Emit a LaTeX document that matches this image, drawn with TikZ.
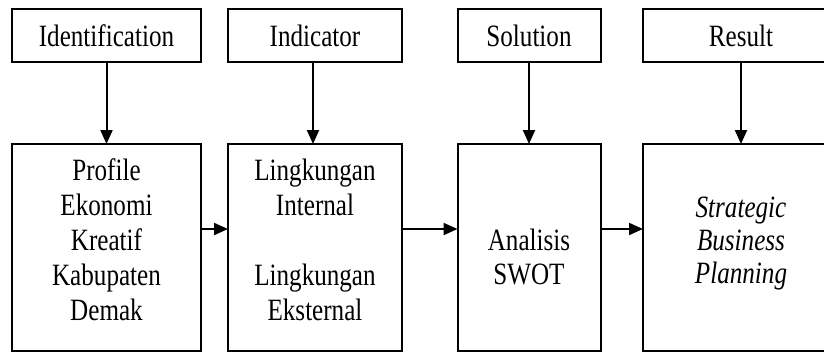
\documentclass[tikz,border=0pt]{standalone}
\usepackage{fontspec}
\setmainfont{Liberation Serif}[FakeStretch=0.81]
\usetikzlibrary{arrows.meta}
\begin{document}
\begin{tikzpicture}[x=1pt,y=-1pt,
  box/.style={draw, line width=2pt, rectangle, inner sep=0pt, outer sep=0pt},
  txt/.style={align=center, inner sep=0pt, font=\fontsize{31}{35}\selectfont},
  arr/.style={line width=2pt, -{Triangle[length=14pt,width=12pt]}}]
\useasboundingbox (0,0) rectangle (824,354);
\fill[white] (0,0) rectangle (824,354);
% top boxes
\node[box, txt, minimum width=189pt, minimum height=53pt] (t1) at (106.5,35.5) {Identification};
\node[box, txt, minimum width=174pt, minimum height=53pt] (t2) at (315,35.5) {Indicator};
\node[box, txt, minimum width=143pt, minimum height=53pt] (t3) at (529,35.5) {Solution};
\node[box, minimum width=196pt, minimum height=53pt] (t4) at (741,35.5) {};
\node[txt] (t4l) at (741,35.5) {Result};
% bottom boxes
\node[box, minimum width=189pt, minimum height=207pt] (b1) at (106.5,247.5) {};
\node[box, minimum width=174pt, minimum height=207pt] (b2) at (315,247.5) {};
\node[box, minimum width=143pt, minimum height=207pt] (b3) at (529,247.5) {};
\node[box, minimum width=196pt, minimum height=207pt] (b4) at (741,247.5) {};
% texts
\node[txt] (l1) at (106.5,240) {Profile\\Ekonomi\\Kreatif\\Kabupaten\\Demak};
\node[txt] (l2) at (315,240) {Lingkungan\\Internal\\[35pt]Lingkungan\\Eksternal};
\node[txt, font=\fontsize{31}{34}\selectfont] (l3) at (529,256.5) {Analisis\\SWOT};
\node[txt, font=\fontsize{31}{33}\selectfont\itshape] (l4) at (741,243.5) {Strategic\\Business\\Planning};
% arrows
\draw[arr] (t1.south) -- (b1.north);
\draw[arr] (t2.south -| 313,0) -- (b2.north -| 313,0);
\draw[arr] (t3.south) -- (b3.north);
\draw[arr] (t4.south) -- (b4.north);
\draw[arr] (b1.east |- 0,229) -- (b2.west |- 0,229);
\draw[arr] (b2.east |- 0,229) -- (b3.west |- 0,229);
\draw[arr] (b3.east |- 0,229) -- (b4.west |- 0,229);
\end{tikzpicture}
\end{document}
